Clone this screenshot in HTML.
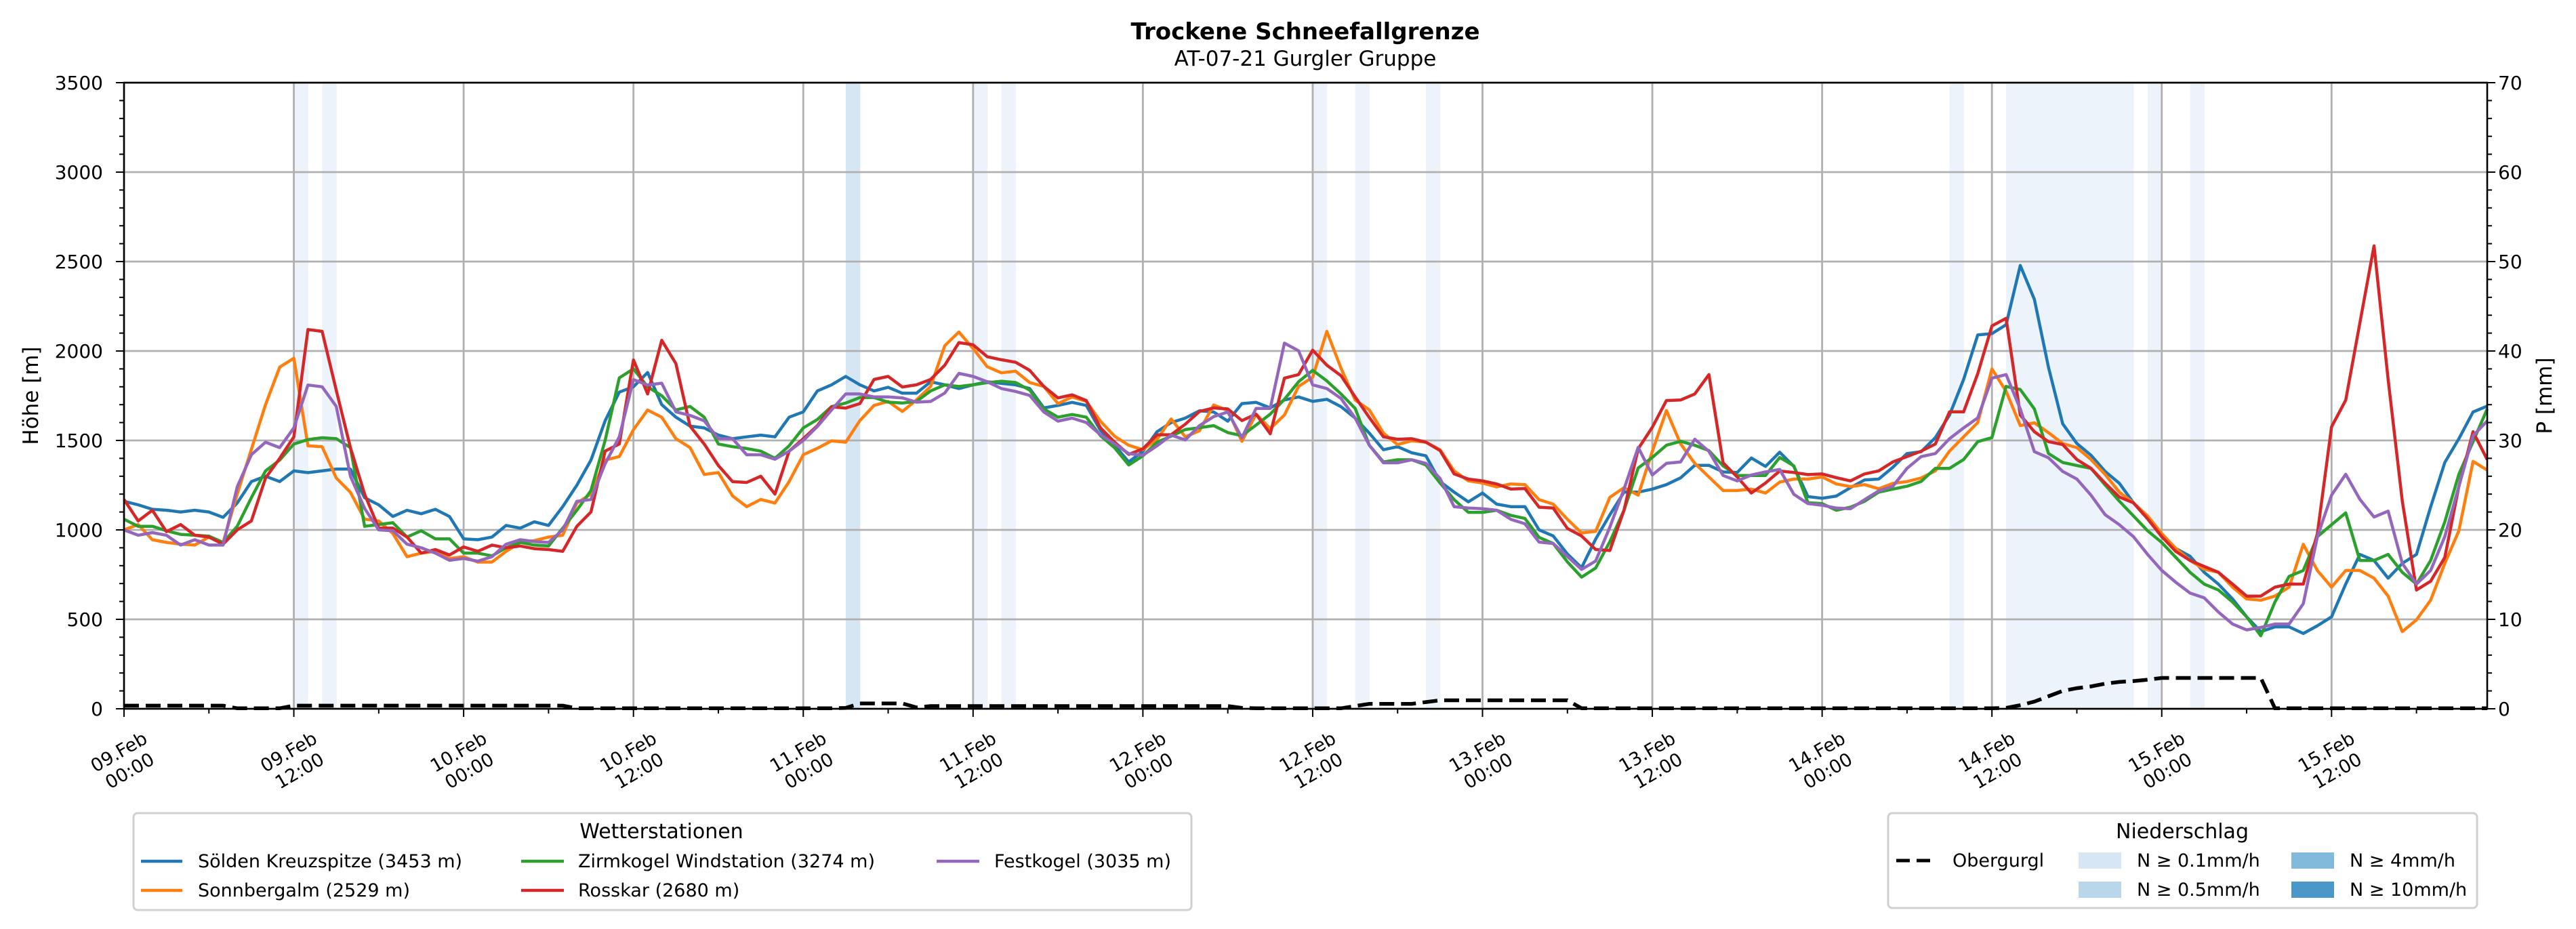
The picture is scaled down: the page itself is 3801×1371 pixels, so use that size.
<!DOCTYPE html>
<html><head><meta charset="utf-8"><style>
html,body{margin:0;padding:0;background:#fff;}
svg{display:block;font-family:"DejaVu Sans","Liberation Sans",sans-serif;}
</style></head><body>
<svg id="chart" width="3801" height="1371" viewBox="0 0 3801 1371" xmlns="http://www.w3.org/2000/svg">
<rect width="3801" height="1371" fill="#fff"/>
<text x="1926" y="58" text-anchor="middle" font-size="34" font-weight="bold">Trockene Schneefallgrenze</text>
<text x="1926" y="97" text-anchor="middle" font-size="31">AT-07-21 Gurgler Gruppe</text>
<g id="bands"></g>
<g id="grid"></g>
<g id="series"></g>
<g id="axes"></g>
<text transform="translate(56,584) rotate(-90)" text-anchor="middle" font-size="31">Höhe [m]</text>
<text transform="translate(3765,584) rotate(-90)" text-anchor="middle" font-size="31">P [mm]</text>

<g>
<rect x="197" y="1200" width="1561" height="143" rx="6" fill="#fff" stroke="#d0d0d0" stroke-width="3"/>
<text x="976" y="1237" text-anchor="middle" font-size="30">Wetterstationen</text>
<g><line x1="208" y1="1271" x2="269" y2="1271" stroke="#1f77b4" stroke-width="4.5"/><text x="292" y="1280" font-size="27">Sölden Kreuzspitze (3453 m)</text></g>
<g><line x1="208" y1="1314" x2="269" y2="1314" stroke="#ff7f0e" stroke-width="4.5"/><text x="292" y="1323" font-size="27">Sonnbergalm (2529 m)</text></g>
<g><line x1="769" y1="1271" x2="832" y2="1271" stroke="#2ca02c" stroke-width="4.5"/><text x="853" y="1280" font-size="27">Zirmkogel Windstation (3274 m)</text></g>
<g><line x1="769" y1="1314" x2="832" y2="1314" stroke="#d62728" stroke-width="4.5"/><text x="853" y="1323" font-size="27">Rosskar (2680 m)</text></g>
<g><line x1="1382" y1="1271" x2="1445" y2="1271" stroke="#9467bd" stroke-width="4.5"/><text x="1467" y="1280" font-size="27">Festkogel (3035 m)</text></g>
</g>

<g>
<rect x="2786" y="1200" width="869" height="140" rx="6" fill="#fff" stroke="#d0d0d0" stroke-width="3"/>
<text x="3220" y="1237" text-anchor="middle" font-size="30">Niederschlag</text>
<g><line x1="2798" y1="1270" x2="2854" y2="1270" stroke="#000" stroke-width="5" stroke-dasharray="20,10"/><text x="2881" y="1279" font-size="27">Obergurgl</text></g>
<g><rect x="3067" y="1258" width="63" height="24" fill="#d6e6f4"/><text x="3153" y="1279" font-size="27">N ≥ 0.1mm/h</text></g>
<g><rect x="3067" y="1301" width="63" height="24" fill="#bad6eb"/><text x="3153" y="1322" font-size="27">N ≥ 0.5mm/h</text></g>
<g><rect x="3381" y="1258" width="63" height="24" fill="#82badb"/><text x="3467" y="1279" font-size="27">N ≥ 4mm/h</text></g>
<g><rect x="3381" y="1301" width="63" height="24" fill="#4a98c9"/><text x="3467" y="1322" font-size="27">N ≥ 10mm/h</text></g>
</g>
</svg>
<script>
const soelden = [1160,1140,1115,1110,1100,1110,1100,1070,1150,1270,1300,1270,1330,1320,1330,1340,1340,1180,1140,1075,1110,1090,1115,1075,950,945,960,1025,1010,1045,1025,1130,1250,1390,1610,1770,1800,1880,1700,1630,1580,1570,1530,1510,1520,1530,1520,1630,1660,
1777,1811,1858,1811,1777,1797,1764,1764,1828,1811,1790,1811,1828,1819,1811,1790,1682,1696,1713,1696,1557,1473,1380,1439,1549,1600,1625,1666,1659,1608,1706,1713,1682,1726,1743,1718,1730,1689,1625,
1541,1448,1465,1431,1414,1270,1211,1157,1206,1144,1130,1130,1000,966,865,789,949,1084,1211,1211,1228,1253,1291,1361,1361,1324,1321,1402,1355,1434,1355,1186,1177,1189,1236,1279,
1284,1350,1427,1437,1516,1642,1841,2090,2097,2147,2478,2289,1908,1593,1483,1417,1327,1261,1151,1062,962,896,853,763,697,614,514,431,458,458,421,464,514,697,863,829,730,813,863,1128,1377,1510,1659,1692];
const sonnbergalm = [1000,1030,945,930,920,915,960,930,1200,1450,1700,1910,1960,1470,1465,1290,1210,1060,1050,980,850,870,880,840,850,820,820,880,930,940,960,970,1150,1200,1390,1410,1560,1670,1630,1510,1460,1310,1320,1190,1130,1170,1150,1270,1420,
1456,1498,1490,1611,1696,1718,1662,1726,1802,2030,2106,2014,1912,1878,1887,1824,1802,1706,1743,1718,1608,1524,1473,1448,1507,1620,1520,1554,1698,1667,1495,1647,1566,1642,1802,1853,2110,1904,1726,
1671,1541,1477,1498,1490,1448,1329,1274,1262,1240,1257,1253,1169,1144,1059,983,992,1182,1236,1194,1439,1667,1481,1372,1296,1220,1220,1228,1206,1267,1284,1284,1296,1257,1242,1253,
1230,1260,1270,1290,1330,1440,1520,1600,1900,1775,1583,1599,1543,1483,1460,1393,1310,1211,1151,1078,979,896,829,780,763,680,614,607,630,680,919,773,680,773,773,730,630,431,497,607,813,995,1383,1334];
const zirmkogel = [1060,1020,1020,995,975,970,965,930,1020,1180,1330,1390,1480,1505,1515,1510,1460,1020,1030,1040,960,995,950,950,870,870,855,900,930,915,910,1010,1110,1220,1500,1850,1900,1800,1750,1670,1690,1630,1480,1465,1455,1440,1400,1470,1570,
1617,1689,1709,1740,1740,1714,1709,1718,1777,1811,1802,1811,1823,1831,1824,1782,1676,1630,1645,1630,1527,1459,1363,1414,1490,1524,1561,1571,1583,1544,1527,1586,1647,1730,1828,1892,1833,1760,1679,
1473,1380,1392,1392,1363,1262,1169,1098,1098,1110,1081,1064,958,924,821,736,787,934,1110,1346,1405,1473,1495,1473,1443,1358,1304,1304,1304,1405,1358,1152,1147,1110,1127,1160,
1211,1228,1244,1271,1344,1344,1393,1493,1516,1802,1785,1676,1427,1377,1360,1344,1251,1161,1078,995,929,846,763,697,664,597,514,408,597,740,773,962,1029,1095,829,829,863,763,697,829,1045,1311,1493,1676];
const rosskar = [1170,1050,1110,990,1030,970,960,920,1000,1050,1290,1400,1520,2120,2110,1780,1460,1200,1010,1010,960,870,890,860,905,880,915,900,910,895,890,880,1020,1100,1440,1480,1950,1760,2060,1930,1580,1480,1360,1270,1265,1300,1200,1440,1510,
1583,1688,1681,1706,1841,1858,1799,1811,1841,1921,2047,2035,1968,1951,1937,1892,1802,1738,1755,1723,1571,1490,1422,1453,1532,1532,1591,1662,1682,1676,1611,1647,1537,1848,1868,2005,1921,1862,1743,
1628,1520,1507,1510,1490,1443,1313,1284,1274,1257,1228,1231,1127,1122,1008,966,890,885,1110,1453,1574,1723,1726,1760,1868,1375,1296,1206,1262,1329,1321,1309,1313,1292,1274,1313,
1330,1380,1410,1440,1480,1660,1660,1874,2140,2183,1642,1549,1493,1477,1393,1344,1261,1184,1151,1062,962,879,829,796,763,697,630,630,680,697,697,979,1576,1725,2157,2588,1841,1161,664,713,846,1244,1549,1393];
const festkogel = [1000,970,985,970,915,945,915,915,1240,1420,1490,1460,1570,1810,1800,1690,1300,1120,1000,995,920,900,870,830,840,825,850,920,945,935,930,1000,1160,1170,1370,1520,1840,1810,1820,1660,1640,1610,1510,1510,1420,1420,1395,1440,1500,
1578,1671,1760,1760,1743,1743,1738,1714,1718,1765,1875,1858,1828,1790,1774,1752,1659,1608,1625,1600,1532,1481,1426,1417,1470,1530,1503,1583,1633,1659,1515,1679,1679,2044,2001,1811,1790,1735,1625,
1473,1375,1375,1392,1372,1287,1130,1122,1118,1110,1059,1034,932,924,851,779,826,1015,1228,1461,1307,1372,1380,1507,1439,1304,1274,1307,1324,1338,1199,1147,1138,1122,1118,1169,
1218,1244,1344,1410,1427,1510,1570,1626,1848,1868,1676,1437,1403,1327,1284,1194,1085,1029,962,863,773,707,647,620,541,474,441,455,474,474,587,962,1194,1311,1171,1072,1105,813,697,773,962,1244,1526,1609];
const precipObergurgl = [0.35,0.35,0.35,0.35,0.35,0.35,0.35,0.35,0.05,0.05,0.05,0.05,0.35,0.35,0.35,0.35,0.35,0.35,0.35,0.35,0.35,0.35,0.35,0.35,0.35,0.35,0.35,0.35,0.35,0.35,0.35,0.35,
0.05,0.05,0.05,0.05,0.05,0.05,0.05,0.05,0.05,0.05,0.05,0.05,0.05,0.05,0.05,0.05,0.05,0.05,0.05,0.1,0.6,0.6,0.6,0.6,0.15,0.3,0.3,0.3,0.3,0.3,0.3,0.3,
0.3,0.3,0.3,0.3,0.3,0.3,0.3,0.3,0.3,0.3,0.3,0.3,0.3,0.3,0.3,0.1,0.05,0.05,0.05,0.05,0.05,0.05,0.05,0.3,0.55,0.55,0.55,0.55,0.75,0.95,0.95,0.95,
0.95,0.95,0.95,0.95,0.95,0.95,0.95,0.05,0.05,0.05,0.05,0.05,0.05,0.05,0.05,0.05,0.05,0.05,0.05,0.05,0.05,0.05,0.05,0.05,0.05,0.05,0.05,0.05,0.05,0.05,0.05,0.05,
0.05,0.05,0.05,0.05,0.05,0.1,0.4,0.8,1.4,2.0,2.3,2.5,2.8,3.0,3.1,3.25,3.45,3.45,3.45,3.45,3.45,3.45,3.45,3.45,0.05,0.05,0.05,0.05,0.05,0.05,0.05,0.05,
0.05,0.05,0.05,0.05,0.05,0.05,0.05,0.05];
const bandHours = [12,14,51,60,62,84,87,92,129,133,134,135,136,137,138,139,140,141,143,146];
const bandLevel = [1,1,2,1,1,1,1,1,1,1,1,1,1,1,1,1,1,1,1,1];
const xTickDays = ["09.Feb","09.Feb","10.Feb","10.Feb","11.Feb","11.Feb","12.Feb","12.Feb","13.Feb","13.Feb","14.Feb","14.Feb","15.Feb","15.Feb"];
const xTickTimes = ["00:00","12:00","00:00","12:00","00:00","12:00","00:00","12:00","00:00","12:00","00:00","12:00","00:00","12:00"];
const yTicks = [0,500,1000,1500,2000,2500,3000,3500];
const y2Ticks = [0,10,20,30,40,50,60,70];

const NS="http://www.w3.org/2000/svg";
const L=183,R=3670,T=122,B=1046,HMAX=167;
const xs=h=>L+(R-L)*h/HMAX;
const ys=v=>B-(B-T)*v/3500;
const ys2=p=>B-(B-T)*p/70;
function mk(tag,attrs,parent){const e=document.createElementNS(NS,tag);for(const k in attrs)e.setAttribute(k,attrs[k]);parent.appendChild(e);return e;}
const gB=document.getElementById('bands'),gG=document.getElementById('grid'),gS=document.getElementById('series'),gA=document.getElementById('axes');

bandHours.forEach((h,i)=>{
  const r=mk('rect',{x:xs(h),y:T,width:xs(h+1)-xs(h)+0.5,height:B-T,fill:bandLevel[i]===2?'#d6e6f3':'#edf3fb'},gB);
  
  
});
yTicks.forEach(v=>{
  const l=mk('line',{x1:L,x2:R,y1:ys(v),y2:ys(v),stroke:'#b0b0b0','stroke-width':2.8},gG);
  
  
});
xTickDays.forEach((d,i)=>{
  const l=mk('line',{x1:xs(i*12),x2:xs(i*12),y1:T,y2:B,stroke:'#b0b0b0','stroke-width':2.8},gG);
  
  
});

const series=[[soelden,'#1f77b4','soelden-line'],[sonnbergalm,'#ff7f0e','sonnbergalm-line'],[zirmkogel,'#2ca02c','zirmkogel-line'],[rosskar,'#d62728','rosskar-line'],[festkogel,'#9467bd','festkogel-line']];
series.forEach(([arr,c,n])=>{
  const p=mk('polyline',{points:arr.map((v,h)=>xs(h).toFixed(1)+','+ys(v).toFixed(1)).join(' '),fill:'none',stroke:c,'stroke-width':4.5,'stroke-linejoin':'round'},gS);
  
  
});
const pl=mk('polyline',{points:precipObergurgl.map((v,h)=>xs(h).toFixed(1)+','+ys2(v).toFixed(1)).join(' '),fill:'none',stroke:'#000','stroke-width':5.5,'stroke-dasharray':'22,10'},gS);



const fr=mk('rect',{x:L,y:T,width:R-L,height:B-T,fill:'none',stroke:'#000','stroke-width':2.6},gA);


for(let v=0;v<=3500;v+=100){const maj=v%500===0;mk('line',{x1:L,x2:L-(maj?12:7),y1:ys(v),y2:ys(v),stroke:'#000','stroke-width':2},gA);}
for(let p=0;p<=70;p+=2){const maj=p%10===0;mk('line',{x1:R,x2:R+(maj?12:7),y1:ys2(p),y2:ys2(p),stroke:'#000','stroke-width':2},gA);}
for(let h=0;h<=HMAX;h+=6){const maj=h%12===0;mk('line',{x1:xs(h),x2:xs(h),y1:B,y2:B+(maj?12:7),stroke:'#000','stroke-width':2},gA);}
yTicks.forEach(v=>{
  const t=mk('text',{x:152,y:ys(v)+10,'text-anchor':'end','font-size':28},gA);t.textContent=v;
  
  
});
y2Ticks.forEach(p=>{
  const t=mk('text',{x:3686,y:ys2(p)+10,'font-size':28},gA);t.textContent=p;
  
  
});
xTickDays.forEach((d,i)=>{
  const cx=xs(i*12),cy=1123;
  const t=mk('text',{transform:`translate(${cx},${cy}) rotate(-30)`,'text-anchor':'middle','font-size':27},gA);
  
  
  const a=mk('tspan',{x:0,y:-6},t);a.textContent=d;
  const b=mk('tspan',{x:0,y:26},t);b.textContent=xTickTimes[i];
});
</script>
</body></html>
